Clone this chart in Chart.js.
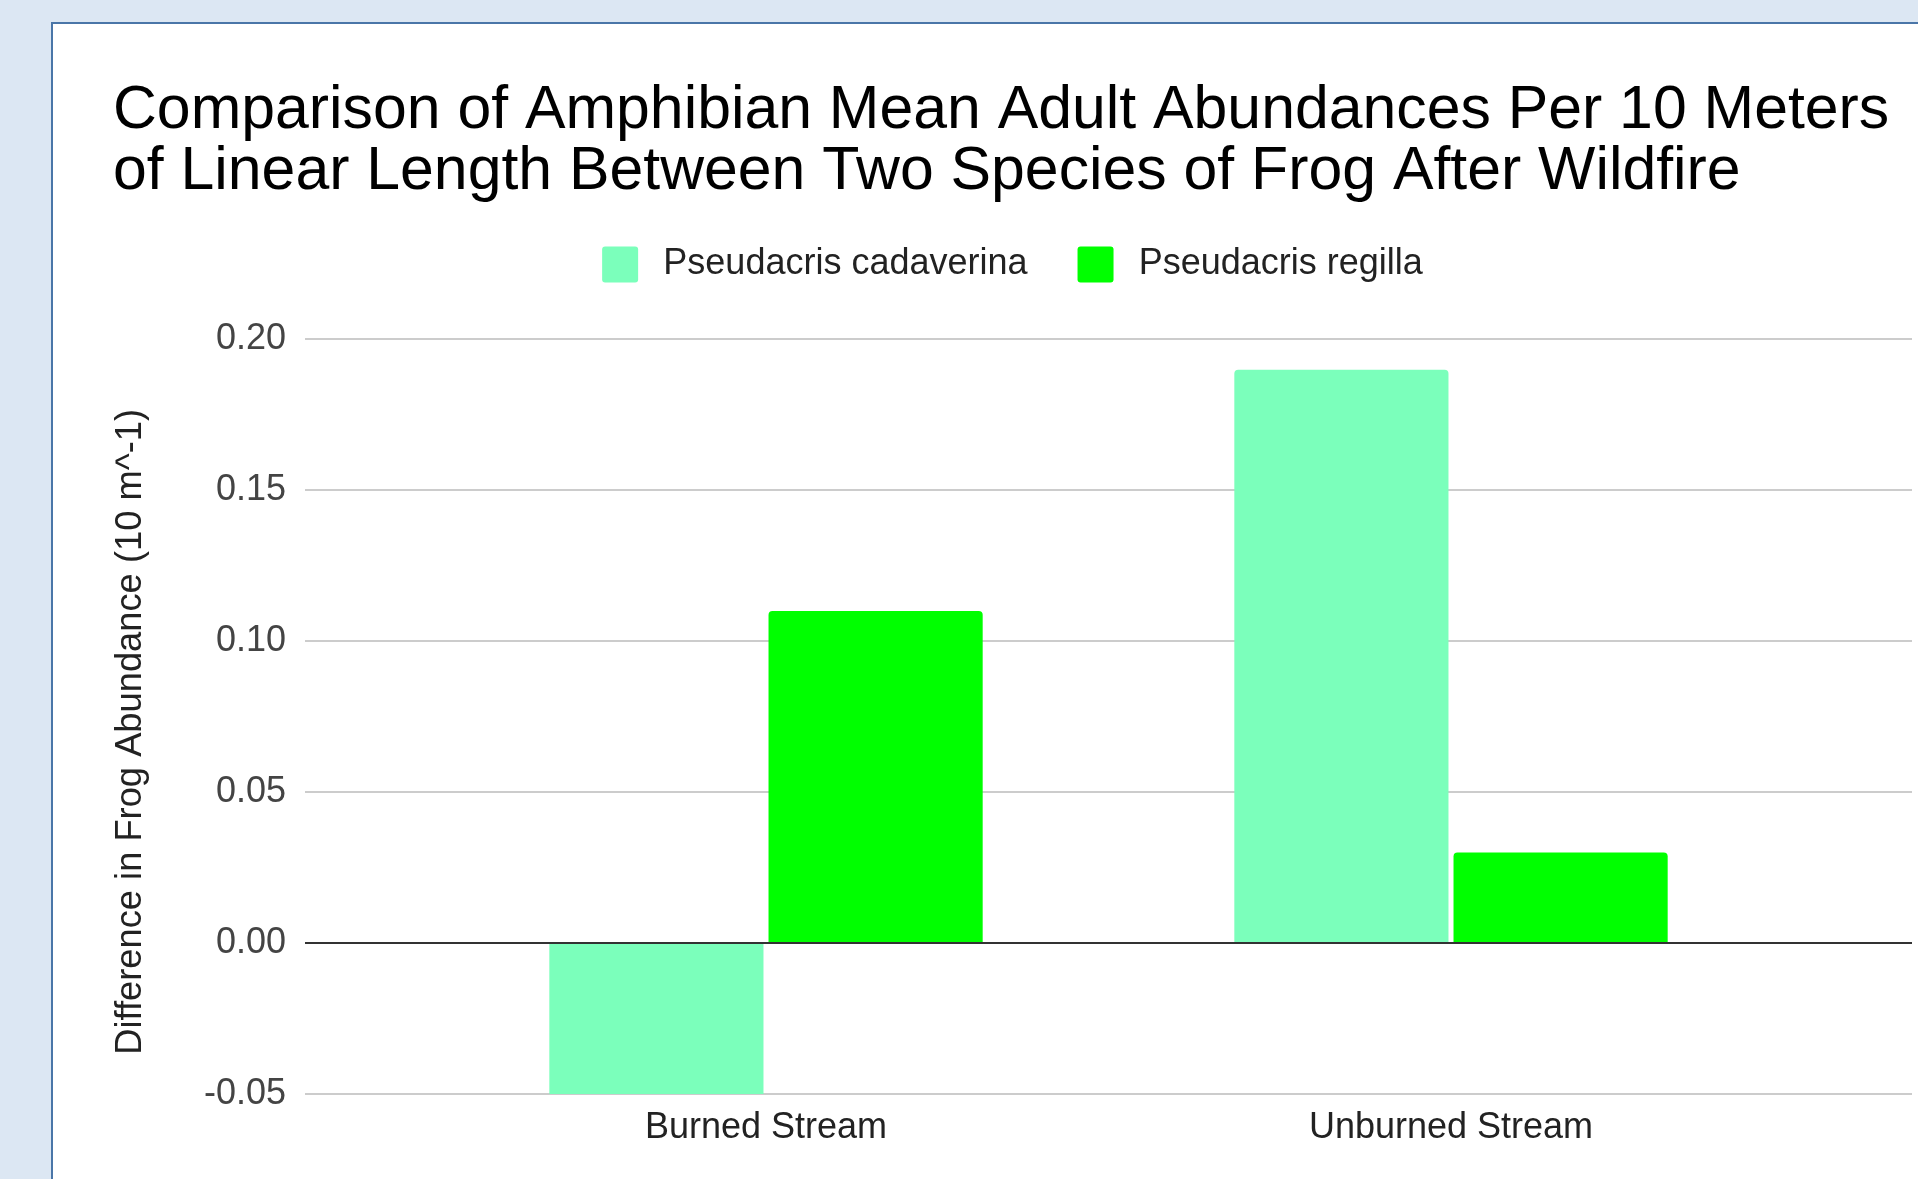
<!DOCTYPE html>
<html>
<head>
<meta charset="utf-8">
<script src="https://cdn.jsdelivr.net/npm/chart.js@4/dist/chart.umd.min.js"></script>
<style>
  html, body { margin: 0; padding: 0; width: 1918px; height: 1179px; overflow: hidden; background: #dce7f3; }
  #panel { position: absolute; left: 51px; top: 22px; width: 1940px; height: 1200px; background: #ffffff;
           border-top: 2px solid #4a76a8; border-left: 2px solid #4a76a8; }
  #wrap { position: absolute; left: 0; top: 0; width: 1918px; height: 1179px; }
</style>
</head>
<body>
<div id="panel"></div>
<div id="wrap"><canvas id="chart" width="1918" height="1179"></canvas></div>
<script>
// Stream categories and mean differences in adult abundance per species
const categories = ['Burned Stream', 'Unburned Stream'];
const seriesNames = ['Pseudacris cadaverina', 'Pseudacris regilla'];
const cadaverinaValues = [-0.05, 0.19];
const regillaValues = [0.11, 0.03];
const yTickValues = [-0.05, 0.00, 0.05, 0.10, 0.15, 0.20];
const titleLines = [
  'Comparison of Amphibian Mean Adult Abundances Per 10 Meters',
  'of Linear Length Between Two Species of Frog After Wildfire'
];
const yAxisTitle = 'Difference in Frog Abundance (10 m^-1)';

const seriesColors = ['#7bffbb', '#00ff00'];

Chart.defaults.font.family = '"Liberation Sans", Arial, sans-serif';
Chart.defaults.color = '#222222';

const toPoints = (vals) => vals.map((v, i) => ({ x: i, y: v }));

// Extra room below the legend before the plot area starts
const legendSpacer = {
  id: 'legendSpacer',
  beforeInit(chart) {
    const origFit = chart.legend.fit;
    chart.legend.fit = function () {
      origFit.call(this);
      this.height += 47;
    };
  }
};

new Chart(document.getElementById('chart'), {
  type: 'bar',
  data: {
    datasets: [
      { label: seriesNames[0], data: toPoints(cadaverinaValues), backgroundColor: seriesColors[0] },
      { label: seriesNames[1], data: toPoints(regillaValues), backgroundColor: seriesColors[1] }
    ]
  },
  options: {
    responsive: false,
    animation: false,
    events: [],
    layout: { padding: { left: 113, right: 6, top: 0, bottom: 0 } },
    datasets: {
      bar: {
        categoryPercentage: 0.64,
        barPercentage: 0.977,
        borderSkipped: 'start',
        borderRadius: (c) => (c.raw && c.raw.y < 0 ? 0 : 4)
      }
    },
    plugins: {
      title: {
        display: true,
        text: titleLines,
        align: 'start',
        color: '#000000',
        font: { size: 60.75, weight: 'normal', lineHeight: 1.016 },
        padding: { top: 80, bottom: -7 }
      },
      legend: {
        display: true,
        position: 'top',
        align: 'center',
        labels: {
          boxWidth: 36,
          boxHeight: 36,
          padding: 50,
          color: '#222222',
          font: { size: 36 },
          useBorderRadius: true,
          borderRadius: 3,
          // thin space widens the gap between swatch and name
          generateLabels: (chart) => {
            const items = Chart.defaults.plugins.legend.labels.generateLabels(chart);
            items.forEach((it) => { it.text = '\u2009' + it.text; });
            return items;
          }
        }
      },
      tooltip: { enabled: false }
    },
    scales: {
      x: {
        type: 'linear',
        min: -0.673,
        max: 1.673,
        offset: false,
        afterBuildTicks: (scale) => { scale.ticks = categories.map((_, i) => ({ value: i })); },
        afterFit: (scale) => { scale.height = 85; },
        ticks: {
          autoSkip: false,
          maxRotation: 0,
          padding: 12,
          color: '#222222',
          font: { size: 36 },
          callback: (v) => categories[v]
        },
        grid: { display: false, drawTicks: false, offset: false },
        border: { display: false }
      },
      y: {
        min: -0.05,
        max: 0.20,
        afterBuildTicks: (scale) => { scale.ticks = yTickValues.map((v) => ({ value: v })); },
        afterFit: (scale) => { scale.width = 192; },
        ticks: {
          padding: 19,
          color: '#444444',
          font: { size: 36 },
          callback: (v) => v.toFixed(2)
        },
        grid: {
          drawTicks: false,
          lineWidth: 2,
          color: (c) => (c.tick && Math.abs(c.tick.value) < 1e-9 ? '#333333' : '#cccccc')
        },
        border: { display: false },
        title: {
          display: true,
          text: yAxisTitle + '   ',
          color: '#222222',
          font: { size: 36.3, lineHeight: 1.0 },
          padding: { top: 0, bottom: 0 }
        }
      }
    }
  },
  plugins: [legendSpacer]
});
</script>
</body>
</html>
